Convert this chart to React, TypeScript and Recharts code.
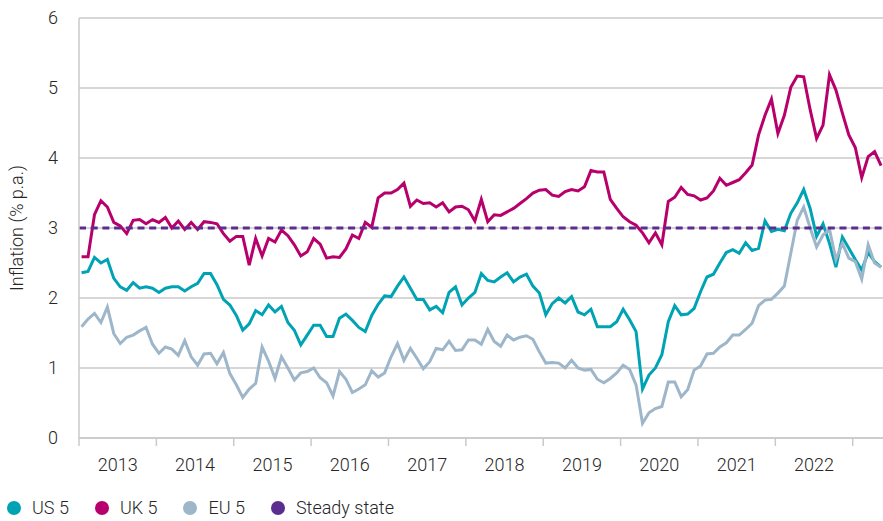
import React from "react";
import { CartesianGrid, Line, LineChart, ReferenceLine, XAxis, YAxis } from "recharts";

// monthly breakeven inflation, 5y horizon, Jan 2013 onwards
const years = [2013, 2014, 2015, 2016, 2017, 2018, 2019, 2020, 2021, 2022];
const steadyState = 3;

const usInflation = [
  2.36, 2.38, 2.58, 2.5, 2.55, 2.28, 2.16, 2.11, 2.22, 2.14, 2.16, 2.14, 2.08, 2.14, 2.16, 2.16,
  2.1, 2.16, 2.21, 2.35, 2.35, 2.19, 1.98, 1.9, 1.75, 1.54, 1.63, 1.82, 1.76, 1.9, 1.8,
  1.88, 1.65, 1.54, 1.33, 1.47, 1.61, 1.61, 1.45, 1.45, 1.71, 1.77, 1.68, 1.58, 1.52, 1.75,
  1.91, 2.03, 2.02, 2.17, 2.3, 2.14, 1.98, 1.98, 1.83, 1.88, 1.79, 2.08, 2.16, 1.9, 2.0,
  2.08, 2.35, 2.25, 2.23, 2.3, 2.36, 2.23, 2.3, 2.34, 2.17, 2.07, 1.76, 1.92, 2.0, 1.93, 2.02,
  1.8, 1.76, 1.84, 1.59, 1.59, 1.59, 1.66, 1.84, 1.69, 1.52, 0.7, 0.9, 1.0, 1.19, 1.66, 1.89,
  1.76, 1.77, 1.85, 2.09, 2.3, 2.34, 2.5, 2.65, 2.69, 2.64, 2.79, 2.68, 2.71, 3.1, 2.95, 2.98,
  2.96, 3.21, 3.36, 3.55, 3.28, 2.88, 3.06, 2.78, 2.44, 2.87, 2.71, 2.55, 2.4, 2.65, 2.52, 2.44,
];

const ukInflation = [
  2.59, 2.59, 3.19, 3.39, 3.3, 3.08, 3.03, 2.92, 3.11, 3.12, 3.06, 3.12, 3.08, 3.15, 3.0, 3.1,
  2.98, 3.08, 2.98, 3.09, 3.08, 3.06, 2.92, 2.81, 2.88, 2.88, 2.47, 2.85, 2.6, 2.85, 2.8,
  2.97, 2.89, 2.76, 2.6, 2.66, 2.85, 2.77, 2.57, 2.59, 2.58, 2.7, 2.9, 2.85, 3.08, 3.01, 3.43,
  3.5, 3.5, 3.55, 3.64, 3.31, 3.4, 3.35, 3.36, 3.3, 3.36, 3.23, 3.3, 3.31, 3.26, 3.1,
  3.41, 3.09, 3.19, 3.18, 3.23, 3.28, 3.35, 3.42, 3.5, 3.54, 3.55, 3.47, 3.45, 3.52, 3.55, 3.53,
  3.59, 3.82, 3.8, 3.8, 3.41, 3.28, 3.16, 3.09, 3.04, 2.93, 2.79, 2.93, 2.76, 3.38, 3.44,
  3.58, 3.48, 3.46, 3.4, 3.43, 3.53, 3.71, 3.61, 3.65, 3.69, 3.79, 3.9, 4.33, 4.61, 4.84, 4.35,
  4.61, 5.01, 5.17, 5.16, 4.69, 4.28, 4.47, 5.19, 4.97, 4.64, 4.33, 4.15, 3.72, 4.02, 4.09, 3.89,
];

const euInflation = [
  1.59, 1.7, 1.78, 1.65, 1.87, 1.49, 1.35, 1.44, 1.47, 1.53, 1.58, 1.34, 1.21, 1.3, 1.27, 1.18,
  1.39, 1.16, 1.04, 1.2, 1.21, 1.06, 1.22, 0.92, 0.76, 0.58, 0.7, 0.78, 1.3, 1.1, 0.85,
  1.16, 1.0, 0.83, 0.93, 0.95, 1.0, 0.86, 0.79, 0.6, 0.95, 0.84, 0.65, 0.7, 0.76, 0.96,
  0.87, 0.93, 1.16, 1.35, 1.11, 1.28, 1.14, 0.99, 1.09, 1.28, 1.26, 1.38, 1.25, 1.26, 1.4,
  1.4, 1.34, 1.55, 1.38, 1.31, 1.47, 1.4, 1.44, 1.46, 1.41, 1.23, 1.07, 1.08, 1.07, 1.0, 1.11,
  1.0, 0.97, 0.98, 0.84, 0.79, 0.85, 0.93, 1.04, 0.98, 0.76, 0.21, 0.36, 0.42, 0.45, 0.8, 0.8,
  0.59, 0.69, 0.97, 1.03, 1.2, 1.21, 1.3, 1.36, 1.47, 1.47, 1.55, 1.64, 1.89, 1.97, 1.98, 2.07,
  2.17, 2.64, 3.11, 3.3, 3.0, 2.73, 2.9, 2.98, 2.55, 2.78, 2.57, 2.52, 2.27, 2.76, 2.5, 2.44,
];

const yTicks = [0, 1, 2, 3, 4, 5, 6];

const series = [
  { key: "us", name: "US 5", color: "#00A3B4" },
  { key: "uk", name: "UK 5", color: "#B8006C" },
  { key: "eu", name: "EU 5", color: "#9EB6C9" },
];
const steadyColor = "#5B2D8E";
const gridColor = "#CACACA";
const textColor = "#262626";
const font = "Roboto, 'Noto Sans', sans-serif";

// points sit between the yearly tick marks, like a category axis
const data = usInflation.map((us, i) => ({
  month: i + 0.4,
  us,
  uk: ukInflation[i],
  eu: euInflation[i],
}));

const boundaryTicks = [...years.map((_, i) => i * 12), years.length * 12];
const labelTicks = years.map((_, i) => i * 12 + 6);
const xDomain = [0, 124.7];

const tickStyle = { fill: textColor, fontSize: 18, fontFamily: font, fontWeight: 300 };

export default function App() {
  return (
    <div style={{ position: "absolute", left: 0, top: 0, width: 883, height: 521, background: "#fff", fontFamily: font }}>
      <LineChart width={883} height={521} data={data} margin={{ top: 18, right: 0, bottom: 45, left: 0 }}>
        <CartesianGrid xAxisId="bounds" vertical={false} stroke={gridColor} strokeWidth={1.3} />
        <XAxis
          xAxisId="bounds"
          dataKey="month"
          type="number"
          domain={xDomain}
          ticks={boundaryTicks}
          tickFormatter={() => ""}
          tickSize={8}
          tickMargin={0}
          height={8}
          interval={0}
          stroke={gridColor}
          strokeWidth={1.5}
          tickLine={{ stroke: gridColor, strokeWidth: 1.5 }}
        />
        <XAxis
          xAxisId="labels"
          dataKey="month"
          type="number"
          domain={xDomain}
          ticks={labelTicks}
          tickFormatter={(v: number) => String(years[Math.floor(v / 12)])}
          axisLine={false}
          tickLine={false}
          tickSize={0}
          tickMargin={12}
          height={30}
          tick={tickStyle}
          interval={0}
        />
        <YAxis
          domain={[0, 6]}
          ticks={yTicks}
          width={79}
          tickLine={false}
          tickSize={0}
          tickMargin={21}
          stroke={gridColor}
          strokeWidth={1.5}
          tick={tickStyle}
        />
        {series.map((s) => (
          <Line
            key={s.key}
            xAxisId="bounds"
            type="linear"
            dataKey={s.key}
            name={s.name}
            stroke={s.color}
            strokeWidth={3}
            dot={false}
            isAnimationActive={false}
          />
        ))}
        <ReferenceLine
          xAxisId="bounds"
          y={steadyState}
          stroke={steadyColor}
          strokeWidth={3}
          strokeDasharray="7 4.7"
        />
      </LineChart>

      <div
        style={{
          position: "absolute",
          left: 17 - 150,
          top: 228 - 12,
          width: 300,
          height: 24,
          lineHeight: "24px",
          textAlign: "center",
          transform: "rotate(-90deg)",
          fontSize: 18,
          fontWeight: 300,
          color: textColor,
        }}
      >
        Inflation (% p.a.)
      </div>

      <div
        style={{
          position: "absolute",
          left: 7,
          top: 499,
          display: "flex",
          alignItems: "center",
          fontSize: 18,
          fontWeight: 300,
          color: textColor,
          lineHeight: "18px",
        }}
      >
        {[...series.map((s) => ({ name: s.name, color: s.color })), { name: "Steady state", color: steadyColor }].map(
          (item) => (
            <div key={item.name} style={{ display: "flex", alignItems: "center", marginRight: 26 }}>
              <span
                style={{
                  display: "inline-block",
                  width: 14,
                  height: 14,
                  borderRadius: 7,
                  background: item.color,
                  marginRight: 11,
                }}
              />
              <span>{item.name}</span>
            </div>
          )
        )}
      </div>
    </div>
  );
}
